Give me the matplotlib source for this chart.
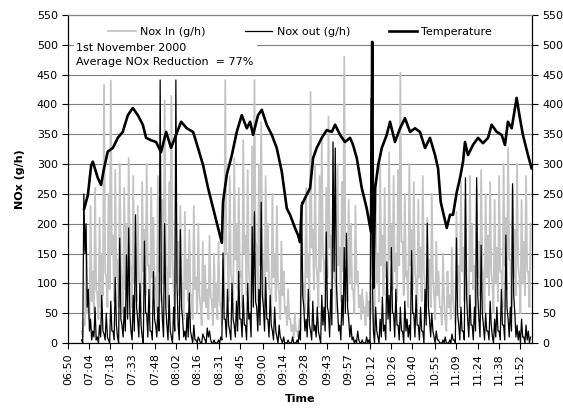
import numpy as np
import matplotlib
matplotlib.use('Agg')
import matplotlib.pyplot as plt

plt.rcParams['font.family'] = 'DejaVu Sans'
plt.rcParams['font.size'] = 8

# time axis in minutes after 06:50
tick_min = [0, 14, 28, 43, 58, 72, 86, 101, 115, 130, 144, 158, 173, 187, 202,
            216, 230, 245, 259, 274, 288, 302]
tick_lab = ['06:50', '07:04', '07:18', '07:33', '07:48', '08:02', '08:16', '08:31',
            '08:45', '09:00', '09:14', '09:28', '09:43', '09:57', '10:12', '10:26',
            '10:40', '10:55', '11:09', '11:24', '11:38', '11:52']

# temperature trace
temp_t = [10.7, 13.2, 15.4, 16.5, 19.8, 22.0, 24.0, 26.5, 29.9, 33.2, 36.5, 39.9,
          43.2, 46.6, 49.9, 52.1, 55.4, 58.8, 62.1, 65.5, 68.8, 72.1, 75.5, 79.3,
          83.5, 86.8, 90.2, 93.5, 96.9, 100.2, 102.7, 103.5, 106.0, 109.4, 112.7,
          116.0, 119.4, 121.6, 123.6, 126.9, 129.4, 132.7, 136.1, 139.4, 142.8,
          146.1, 148.3, 151.6, 153.6, 155.0, 156.1, 158.3, 161.7, 163.7, 166.1,
          169.5, 172.8, 176.2, 178.4, 181.7, 185.0, 188.4, 190.4, 192.9, 196.2,
          199.5, 202.4, 203.2, 203.9, 205.2, 207.2, 209.6, 212.9, 215.1, 218.4,
          221.8, 225.1, 228.5, 231.8, 235.1, 238.5, 241.8, 245.2, 247.2, 249.0,
          250.5, 253.0, 255.2, 257.2, 259.7, 261.9, 263.9, 265.2, 267.2, 270.5,
          273.9, 277.2, 280.6, 283.0, 286.4, 289.7, 291.9, 293.9, 296.4, 299.7,
          301.9, 303.9, 307.3, 309.7]
temp_v = [225, 248, 298, 304, 277, 265, 293, 321, 327, 344, 354, 382,
          394, 382, 366, 344, 340, 337, 320, 354, 327, 349, 371, 360,
          354, 327, 298, 260, 226, 193, 168, 236, 282, 315, 354,
          382, 360, 371, 349, 382, 391, 366, 349, 327, 287,
          226, 215, 193, 181, 169, 231, 243, 260, 310, 327,
          344, 357, 354, 366, 349, 337, 344, 332, 310, 260,
          226, 186, 505, 92, 260, 298, 327, 349, 371, 337,
          360, 377, 354, 360, 354, 327, 344, 315, 293, 236,
          220, 193, 215, 215, 253, 277, 304, 337, 315, 332,
          344, 335, 344, 366, 354, 349, 332, 371, 360, 411,
          377, 349, 315, 293]

# NOx readings: highs every 1.5 min from 9 min, lows in between
nox_t0 = 9.0
nox_dt = 1.5
nox_in_hi = [20, 40, 160, 90, 230, 120, 260, 80, 210, 150,
             433, 110, 250, 440, 180, 290, 140, 300, 100, 260,
             200, 310, 120, 280, 160, 230, 90, 270, 190, 300,
             130, 260, 210, 110, 280, 150, 240, 407, 120, 270,
             414, 90, 250, 170, 230, 70, 220, 140, 190, 80,
             230, 110, 200, 60, 170, 130, 90, 180, 70, 150,
             100, 170, 60, 140, 441, 150, 280, 100, 310, 200,
             260, 120, 340, 180, 290, 90, 330, 441, 160, 300,
             370, 120, 280, 200, 90, 250, 150, 230, 80, 170,
             120, 60, 90, 40, 30, 50, 20, 40, 220, 100,
             260, 150, 421, 190, 300, 110, 280, 340, 130, 260,
             380, 180, 250, 100, 300, 160, 270, 480, 140, 240,
             200, 90, 230, 120, 80, 90, 60, 85, 70, 100,
             40, 240, 150, 300, 180, 260, 110, 320, 200, 280,
             150, 290, 453, 170, 250, 120, 300, 190, 270, 100,
             240, 160, 280, 90, 210, 140, 250, 80, 170, 120,
             60, 150, 40, 120, 80, 160, 50, 220, 130, 270,
             160, 240, 90, 280, 200, 130, 260, 170, 290, 110,
             250, 180, 270, 100, 240, 160, 280, 120, 300, 210,
             327, 140, 260, 190, 300, 110, 240, 170, 280, 120, 200]
nox_in_lo = [10, 30, 50, 40, 70, 50, 90, 40, 60, 80,
             120, 60, 90, 150, 70, 110, 60, 130, 50, 90,
             80, 140, 60, 100, 70, 110, 50, 120, 80, 130,
             60, 110, 90, 50, 120, 70, 100, 130, 60, 110,
             140, 50, 100, 80, 110, 40, 90, 70, 80, 40,
             90, 50, 80, 30, 70, 60, 40, 80, 30, 60,
             40, 70, 30, 60, 150, 70, 120, 50, 140, 90,
             110, 60, 150, 80, 120, 50, 140, 170, 70, 130,
             160, 60, 120, 90, 50, 110, 70, 100, 40, 80,
             50, 30, 40, 20, 10, 20, 10, 20, 80, 50,
             110, 70, 160, 90, 130, 60, 120, 150, 60, 110,
             160, 80, 110, 50, 130, 70, 120, 170, 70, 100,
             90, 50, 100, 60, 40, 50, 30, 45, 40, 50,
             20, 100, 70, 130, 80, 110, 50, 140, 90, 120,
             70, 130, 170, 80, 110, 60, 130, 90, 120, 50,
             110, 70, 120, 50, 90, 60, 110, 40, 80, 60,
             30, 70, 20, 60, 40, 70, 30, 100, 60, 120,
             70, 110, 50, 120, 90, 60, 110, 80, 130, 50,
             110, 80, 120, 50, 100, 70, 120, 60, 130, 90,
             140, 60, 110, 80, 130, 50, 100, 80, 120, 60]
nox_out_hi = [5, 250, 200, 90, 40, 20, 60, 10, 30, 80,
              15, 50, 5, 70, 20, 110, 10, 176, 30, 60,
              148, 193, 20, 80, 215, 40, 100, 10, 171, 50,
              90, 20, 120, 30, 60, 441, 40, 200, 30, 80,
              10, 60, 441, 30, 190, 40, 20, 50, 84, 10,
              30, 5, 10, 0, 15, 5, 25, 20, 0, 5,
              0, 5, 10, 151, 40, 90, 20, 100, 30, 70,
              120, 40, 80, 30, 100, 50, 195, 220, 60, 90,
              236, 60, 110, 40, 80, 20, 60, 10, 30, 5,
              10, 0, 5, 0, 10, 0, 5, 20, 236, 60,
              40, 90, 20, 70, 30, 60, 10, 80, 60, 186,
              50, 90, 337, 327, 60, 30, 80, 160, 184, 40,
              30, 10, 5, 20, 0, 5, 0, 10, 5, 411,
              20, 60, 10, 40, 77, 30, 136, 80, 160, 50,
              90, 30, 60, 20, 70, 40, 30, 155, 50, 80,
              30, 60, 20, 90, 201, 40, 50, 10, 20, 5,
              0, 5, 10, 0, 5, 15, 5, 176, 30, 60,
              20, 277, 40, 80, 30, 60, 277, 40, 164, 30,
              50, 20, 70, 10, 40, 60, 20, 90, 30, 181,
              40, 60, 267, 50, 30, 20, 40, 10, 30, 20, 10]
nox_out_lo = [0, 150, 60, 20, 5, 10, 5, 0, 10, 20,
              5, 10, 0, 20, 5, 30, 0, 40, 10, 20,
              40, 50, 5, 20, 60, 10, 30, 0, 50, 10,
              20, 5, 40, 10, 20, 90, 10, 60, 5, 20,
              0, 20, 100, 5, 60, 10, 5, 10, 20, 0,
              5, 0, 5, 0, 10, 0, 10, 5, 0, 0,
              0, 0, 5, 40, 10, 30, 5, 40, 10, 20,
              40, 10, 30, 5, 40, 10, 60, 70, 20, 30,
              80, 20, 40, 10, 30, 5, 20, 0, 10, 0,
              0, 0, 0, 0, 0, 0, 0, 5, 80, 20,
              10, 30, 5, 20, 10, 20, 0, 30, 20, 60,
              10, 30, 120, 100, 20, 5, 30, 50, 60, 10,
              5, 0, 0, 5, 0, 0, 0, 0, 0, 120,
              0, 20, 0, 10, 20, 5, 40, 20, 50, 10,
              30, 5, 20, 0, 20, 10, 5, 50, 10, 30,
              5, 20, 0, 30, 60, 10, 20, 0, 5, 0,
              0, 0, 0, 0, 0, 5, 0, 50, 5, 20,
              5, 80, 10, 30, 5, 20, 80, 10, 50, 5,
              20, 5, 30, 0, 10, 20, 5, 30, 5, 60,
              10, 20, 80, 10, 5, 0, 10, 0, 5, 0]

# interleave highs and lows into one series each
nox_in = np.empty(len(nox_in_hi) + len(nox_in_lo))
nox_in[0::2] = nox_in_hi
nox_in[1::2] = nox_in_lo
nox_out = np.empty(len(nox_out_hi) + len(nox_out_lo))
nox_out[0::2] = nox_out_hi
nox_out[1::2] = nox_out_lo
nox_time = nox_t0 + nox_dt / 2 * np.arange(len(nox_in))

fig = plt.figure(figsize=(5.63, 4.11), dpi=100)
ax = fig.add_axes([0.121, 0.1655, 0.824, 0.798])

ax.plot(nox_time, nox_in, color='#c4c4c4', lw=1.3, label='Nox In (g/h)')
ax.plot(nox_time, nox_out, color='black', lw=0.9, label='Nox out (g/h)')

ax.set_xlim(0, 310)
ax.set_ylim(0, 550)
ax.set_yticks(range(0, 551, 50))
ax.set_xticks(tick_min)
ax.set_xticklabels(tick_lab, rotation=90)
ax.grid(axis='y', color='#808080', lw=0.8)
ax.set_axisbelow(True)
ax.tick_params(length=4, color='black')
ax.spines['top'].set_color('#808080')
ax.set_ylabel('NOx (g/h)', fontweight='bold', labelpad=8)
ax.set_xlabel('Time', fontweight='bold', labelpad=6)

ax2 = ax.twinx()
ax2.plot(temp_t, temp_v, color='black', lw=1.9, label='Temperature')
ax2.set_ylim(0, 550)
ax2.set_yticks(range(0, 551, 50))
ax2.tick_params(length=4)
ax2.spines['top'].set_color('#808080')

ax2.text(0.018, 0.915, '1st November 2000\nAverage NOx Reduction  = 77%',
         transform=ax2.transAxes, va='top', ha='left', linespacing=1.5,
         bbox=dict(facecolor='white', edgecolor='none', pad=2))

h1, l1 = ax.get_legend_handles_labels()
h2, l2 = ax2.get_legend_handles_labels()
ax2.legend(h1 + h2, l1 + l2, loc='center', bbox_to_anchor=(0.5, 0.948), ncol=3,
           frameon=False, columnspacing=3.5, handlelength=2.5, handletextpad=0.4)

fig.savefig('out.png', dpi=100)
